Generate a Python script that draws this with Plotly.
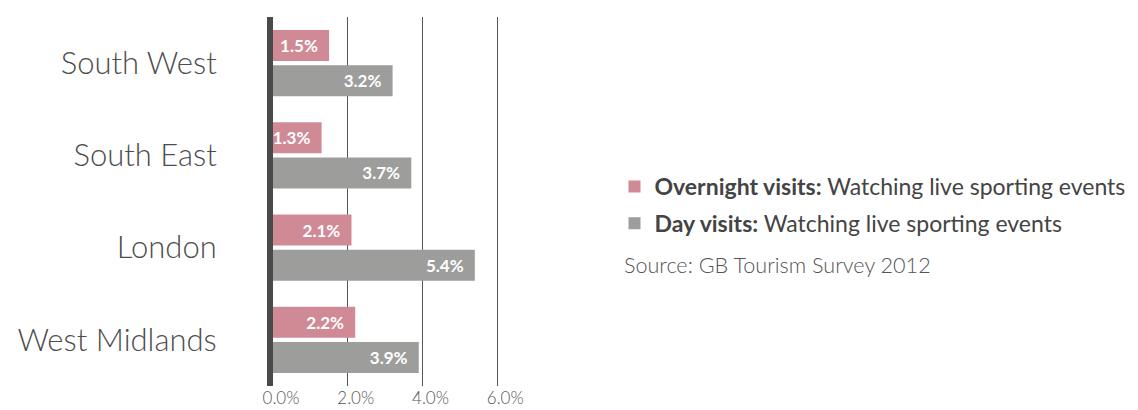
import plotly.graph_objects as go

regions = ["South West", "South East", "London", "West Midlands"]
overnight = [1.5, 1.3, 2.1, 2.2]
day = [3.2, 3.7, 5.4, 3.9]
series_names = [
    "<b>Overnight visits:</b> Watching live sporting events",
    "<b>Day visits:</b> Watching live sporting events",
]
tick_vals = [0, 2, 4, 6]
tick_text = ["0.0%", "2.0%", "4.0%", "6.0%"]
source_text = "Source: GB Tourism Survey 2012"

PINK = "#d08a96"
GREY = "#9d9d9c"
FONT = "Lato, 'Open Sans', sans-serif"

# the page body has an 8px default margin; size the figure to fit the window
OFF = 8
W, H = 1138 - OFF, 410 - OFF
X_MAX = 6.1
L = 273 - OFF
PLOT_W = 37.45 * X_MAX
R = W - L - PLOT_W
T = 17 - OFF
PLOT_BOTTOM = 386 - OFF
B = H - PLOT_BOTTOM
PLOT_H = PLOT_BOTTOM - T

fig = go.Figure()
for i, (name, vals, col) in enumerate([(series_names[0], overnight, PINK),
                                       (series_names[1], day, GREY)]):
    fig.add_trace(go.Bar(
        y=regions, x=vals, orientation="h", name=name,
        legendgroup=f"g{i}",
        marker=dict(color=col, line=dict(width=0)),
        texttemplate="%{x:.1f}%&nbsp;&nbsp;",
        textposition="inside", insidetextanchor="end",
        textangle=0, constraintext="none",
        insidetextfont=dict(color="white", size=17, family=FONT, weight="bold"),
        hoverinfo="skip",
    ))

fig.update_layout(
    width=W, height=H,
    margin=dict(l=L, r=R, t=T, b=B, autoexpand=False),
    paper_bgcolor="white", plot_bgcolor="white",
    barmode="group", bargap=0.24, bargroupgap=0.115,
    font=dict(family=FONT, color="#444"),
    showlegend=True,
    legend=dict(
        xref="container", yref="container", x=606.5 / W, y=1 - 197 / H,
        xanchor="left", yanchor="middle",
        font=dict(size=23, color="#444", family=FONT),
        traceorder="grouped", itemwidth=30, tracegroupgap=4,
        bgcolor="rgba(0,0,0,0)",
    ),
    xaxis=dict(
        range=[0, X_MAX], tickvals=tick_vals, ticktext=tick_text,
        showgrid=True, gridcolor="#555", gridwidth=1,
        zeroline=False, showline=False, ticks="",
        tickfont=dict(size=17, color="#555", family=FONT, weight=300),
        ticklabelshift=8, automargin=False,
        fixedrange=True,
    ),
    yaxis=dict(
        autorange="reversed", showgrid=False, zeroline=False,
        showline=True, linecolor="#4a4a4a", linewidth=6,
        ticks="", ticklabelstandoff=44, automargin=False,
        tickfont=dict(size=31, color="#4d4d4d", family=FONT, weight=300),
        fixedrange=True,
    ),
    annotations=[dict(
        xref="paper", yref="paper", x=(623 - OFF - L) / PLOT_W,
        y=(PLOT_BOTTOM - (265 - OFF)) / PLOT_H,
        xanchor="left", yanchor="middle", showarrow=False,
        text=source_text, font=dict(size=21.6, color="#555", family=FONT, weight=300),
    )],
)

fig.write_html("out.html")
